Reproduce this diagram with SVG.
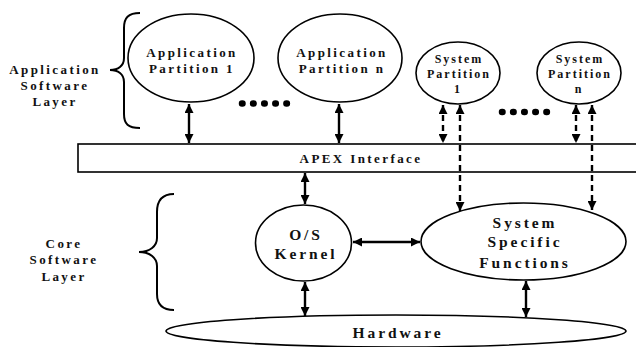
<svg xmlns="http://www.w3.org/2000/svg" width="636" height="347" viewBox="0 0 636 347">
<defs>
<marker id="ah" viewBox="0 0 10 10" refX="10" refY="5" markerWidth="9" markerHeight="9" markerUnits="userSpaceOnUse" orient="auto-start-reverse">
<path d="M0,0 L10,5 L0,10 z" fill="#000"/>
</marker>
<style>
.n{fill:#fff;stroke:#000;stroke-width:1.6}
.t{font-family:"Liberation Serif","Times New Roman",serif;font-weight:bold;fill:#111;text-anchor:middle}
.s13{font-size:13px;letter-spacing:2.4px}
.s12{font-size:12px;letter-spacing:2px}
.s15{font-size:15.5px;letter-spacing:2.9px}
.c{fill:none;stroke:#000;stroke-width:2.4;marker-start:url(#ah);marker-end:url(#ah)}
.d{stroke-dasharray:6,4}
.br{fill:none;stroke:#000;stroke-width:2}
.dots{fill:none;stroke:#000;stroke-width:6.5;stroke-linecap:round;stroke-dasharray:0.5,10.6}
</style>
</defs>
<rect width="636" height="347" fill="#fff"/>
<g id="labels">
<path class="br" d="M140,13 C128,13 124,18 124,28 L124,58 C124,66 118,70 110,70 C118,70 124,74 124,82 L124,114 C124,124 128,128 140,128"/>
<text class="t s13" x="55" y="74">Application</text>
<text class="t s13" x="55" y="90">Software</text>
<text class="t s13" x="55" y="106">Layer</text>
<path class="br" d="M174,194 C162,194 157,200 157,212 L157,238 C157,246 150,252 139,252 C150,252 157,258 157,266 L157,294 C157,304 162,310 174,310"/>
<text class="t s13" x="64" y="248">Core</text>
<text class="t s13" x="64" y="264">Software</text>
<text class="t s13" x="64" y="281">Layer</text>
<path class="dots" d="M242,103.5 L290,103.5"/>
<path class="dots" d="M502,112 L550,112"/>
</g>
<g id="apex">
<rect class="n" x="78" y="144" width="562" height="28"/>
<text class="t s13" x="361" y="163">APEX Interface</text>
</g>
<g id="app1">
<ellipse class="n" cx="191" cy="58" rx="63" ry="44"/>
<text class="t s13" x="192" y="57">Application</text>
<text class="t s13" x="192" y="73">Partition 1</text>
</g>
<g id="appn">
<ellipse class="n" cx="340" cy="58" rx="62" ry="44"/>
<text class="t s13" x="342" y="57">Application</text>
<text class="t s13" x="342" y="73">Partition n</text>
</g>
<g id="sys1">
<ellipse class="n" cx="458" cy="73" rx="42" ry="31"/>
<text class="t s12" x="459" y="63">System</text>
<text class="t s12" x="459" y="78">Partition</text>
<text class="t s12" x="458" y="93">1</text>
</g>
<g id="sysn">
<ellipse class="n" cx="579" cy="73" rx="42" ry="31"/>
<text class="t s12" x="580" y="63">System</text>
<text class="t s12" x="580" y="78">Partition</text>
<text class="t s12" x="579" y="93">n</text>
</g>
<g id="kernel">
<ellipse class="n" cx="303.5" cy="243" rx="48" ry="38"/>
<text class="t s15" x="306" y="240">O/S</text>
<text class="t s15" x="306" y="259">Kernel</text>
</g>
<g id="ssf">
<ellipse class="n" cx="523.5" cy="241.5" rx="102.5" ry="38.5"/>
<text class="t s15" x="525" y="228">System</text>
<text class="t s15" x="525" y="247">Specific</text>
<text class="t s15" x="525" y="268">Functions</text>
</g>
<g id="hardware">
<ellipse class="n" cx="396" cy="331" rx="230" ry="16"/>
<text class="t s15" x="398" y="338">Hardware</text>
</g>
<g id="connectors">
<path class="c" d="M189,104 L189,143"/>
<path class="c" d="M339,104 L339,143"/>
<path class="c d" d="M443,105 L443,143"/>
<path class="c d" d="M460,105 L460,211"/>
<path class="c d" d="M576,105 L576,143"/>
<path class="c d" d="M592,105 L592,210"/>
<path class="c" d="M305,173 L305,204"/>
<path class="c" d="M305,282 L305,316"/>
<path class="c" d="M353,242 L420,242"/>
<path class="c" d="M526,281 L526,317"/>
</g>
</svg>
